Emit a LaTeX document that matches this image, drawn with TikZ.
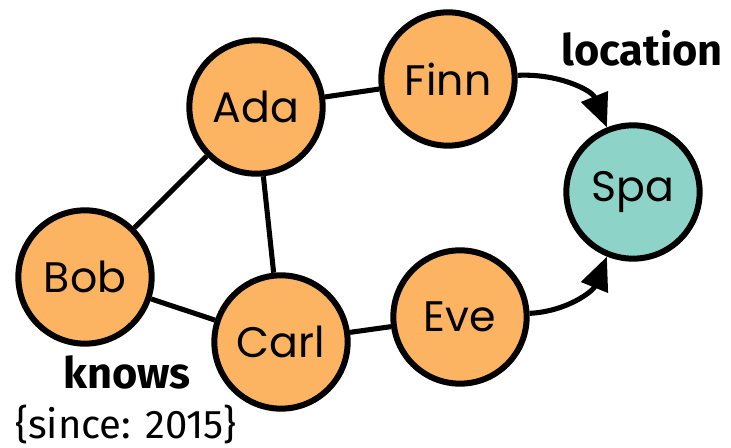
\documentclass[tikz,border=0pt]{standalone}
\usepackage{fontspec}
\setmainfont{Fira Sans}
\newfontfamily\nodefont{Poppins}
\usetikzlibrary{arrows.meta}

\definecolor{person}{HTML}{FDB462}
\definecolor{place}{HTML}{8DD3C7}

\begin{document}
\begin{tikzpicture}[x=0.75pt, y=-0.75pt,
    vertex/.style={circle, draw=black, line width=4.5pt, fill=person,
      minimum size=100pt, inner sep=0pt, font=\nodefont\fontsize{32}{36}\selectfont},
    edge/.style={line width=3.8pt},
    rel/.style={line width=3.8pt, -{Triangle[length=25pt, width=21pt]}},
    lbl/.style={font=\fontsize{30}{34}\selectfont},
    blbl/.style={font=\bfseries\fontsize{32.5}{36}\selectfont}]
    \useasboundingbox (0,0) rectangle (731,448);
    % people and the one place
    \node[vertex] (ada)  at (256,107) {Ada};
    \node[vertex] (finn) at (448,79)  {Finn};
    \node[vertex] (bob)  at (85,277)  {Bob};
    \node[vertex] (carl) at (281,342) {Carl};
    \node[vertex] (eve)  at (460,317) {Eve};
    \node[vertex, fill=place] (spa) at (633,192) {Spa};
    % knows edges
    \draw[edge] (ada) -- (finn);
    \draw[edge] (ada) -- (bob);
    \draw[edge] (ada) -- (carl);
    \draw[edge] (bob) -- (carl);
    \draw[edge] (carl) -- (eve);
    % location edges
    \draw[rel] (finn) to[out=3, in=112] (spa);
    \draw[rel] (eve) to[out=3, in=-112] (spa);
    % labels
    \node[blbl] (loc) at (642,48) {location};
    \node[blbl] (knows) at (127,372) {knows};
    \node[lbl] (since) at (126,424) {\{since: 2015\}};
\end{tikzpicture}
\end{document}
